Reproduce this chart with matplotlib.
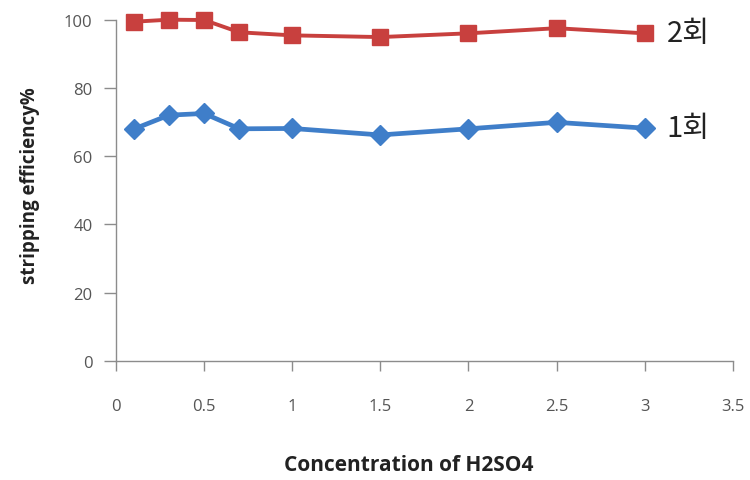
import matplotlib
matplotlib.use("Agg")
import matplotlib.pyplot as plt

# H2SO4 concentration and stripping efficiency per run
concentration = [0.1, 0.3, 0.5, 0.7, 1.0, 1.5, 2.0, 2.5, 3.0]
run1 = [67.9, 72.0, 72.5, 68.0, 68.1, 66.2, 68.0, 69.9, 68.2]
run2 = [99.4, 100.0, 99.9, 96.3, 95.4, 94.9, 96.0, 97.5, 96.0]
series_labels = ["1회", "2회"]
x_ticks = [0, 0.5, 1, 1.5, 2, 2.5, 3, 3.5]
x_tick_labels = ["0", "0.5", "1", "1.5", "2", "2.5", "3", "3.5"]
y_ticks = [0, 20, 40, 60, 80, 100]

plt.rcParams["font.family"] = ["Open Sans", "Noto Sans CJK KR", "DejaVu Sans"]

fig = plt.figure(figsize=(7.5, 4.81), dpi=100)
ax = fig.add_axes([0.1547, 0.248, 0.8223, 0.709])

blue = "#3f7ec9"
red = "#c8403e"

ax.plot(concentration, run1, color=blue, lw=3.4, marker="D", ms=10.5,
        mec=blue, mfc=blue, zorder=3, clip_on=False)
ax.plot(concentration, run2, color=red, lw=2.8, marker="s", ms=12,
        mec=red, mfc=red, zorder=3, clip_on=False)

# Series labels at the right end of each line
for ys, lab in ((run1, series_labels[0]), (run2, series_labels[1])):
    ax.annotate(lab, xy=(concentration[-1], ys[-1]), xytext=(16, 0),
                textcoords="offset points", va="center", ha="left",
                fontsize=21, color="#222222",
                family=["Noto Sans CJK KR", "DejaVu Sans"])

ax.set_xlim(0, 3.5)
ax.set_ylim(0, 100)
ax.set_xticks(x_ticks)
ax.set_xticklabels(x_tick_labels)
ax.set_yticks(y_ticks)

for side in ("top", "right"):
    ax.spines[side].set_visible(False)
for side in ("left", "bottom"):
    ax.spines[side].set_color("#8c8c8c")
    ax.spines[side].set_linewidth(1.0)

ax.tick_params(axis="y", direction="out", length=9, width=1, color="#8c8c8c",
               labelsize=12, labelcolor="#555555", pad=8)
ax.tick_params(axis="x", direction="out", length=7, width=1, color="#8c8c8c",
               labelsize=12, labelcolor="#555555", pad=20)

ax.set_xlabel("Concentration of H2SO4", fontsize=15, fontweight="bold",
              color="#222222")
ax.xaxis.set_label_coords(0.475, -0.274)
ax.set_ylabel("stripping efficiency%", fontsize=13.5, fontweight="bold",
              color="#222222")
ax.yaxis.set_label_coords(-0.124, 0.517)

fig.savefig("out.png", dpi=100, facecolor="white")
